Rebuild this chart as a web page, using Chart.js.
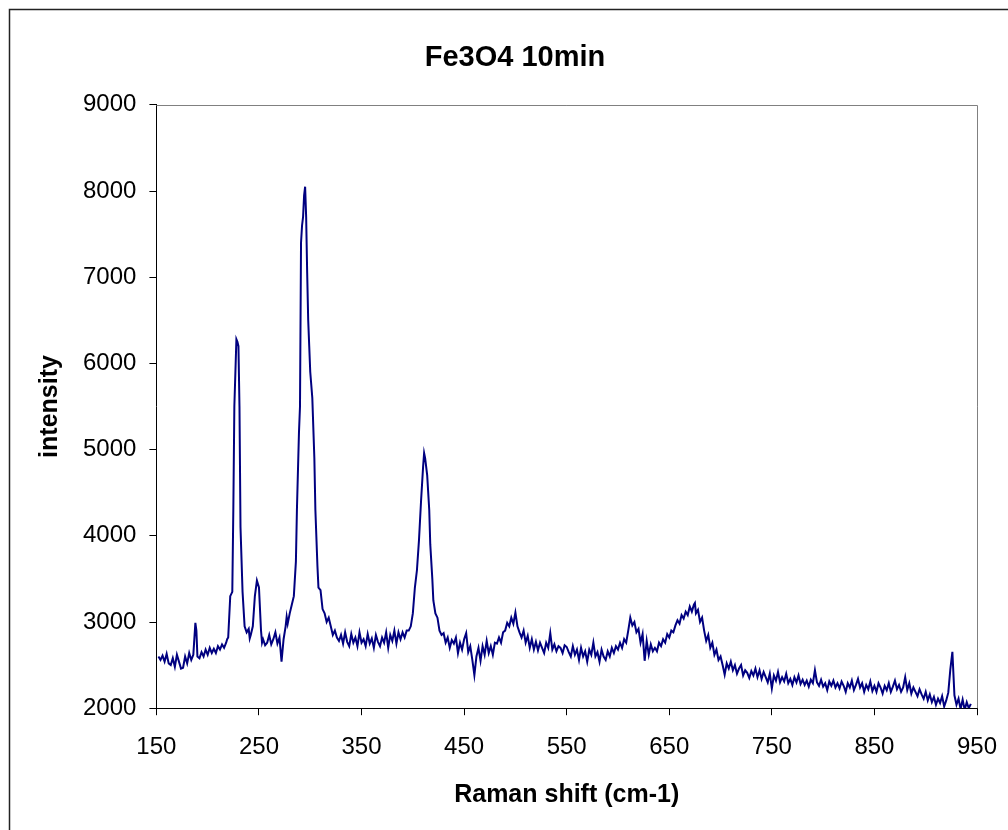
<!DOCTYPE html>
<html>
<head>
<meta charset="utf-8">
<title>Fe3O4 10min</title>
<script src="https://cdn.jsdelivr.net/npm/chart.js@4.4.0/dist/chart.umd.min.js"></script>
<style>
    html, body { margin: 0; padding: 0; background: #fff; }
    #wrap { width: 1008px; height: 830px; }
</style>
</head>
<body>
<div id="wrap"><canvas id="raman" width="1008" height="830"></canvas></div>
<script>
// 拉曼位移 (cm-1)
const ramanShift = [
    152,154,156,158,160,162,164,166,168,170,
    172,174,176,178,180,182,184,186,188,189,
    190,192,194,196,198,200,202,204,206,208,
    210,212,214,216,218,219,220,222,224,225,
    226,228,229,230,231,232,234,236,238,240,
    241,242,244,246,248,250,252,253,254,256,
    258,260,262,264,266,268,270,272,274,276,
    277,278,280,282,284,286,287,289,290,291,
    292,293,294,295,296,297,298,299,300,302,
    304,305,307,308,310,312,314,316,318,320,
    322,324,326,328,330,332,334,336,338,340,
    342,344,346,348,350,352,354,356,358,360,
    362,364,366,368,370,372,374,376,378,380,
    382,384,386,388,390,392,394,396,398,400,
    402,404,406,408,410,411,412,414,416,417,
    419,420,422,424,426,428,430,432,434,436,
    438,440,442,444,446,448,450,452,454,456,
    458,460,462,464,466,468,470,472,474,476,
    478,480,482,484,486,488,490,492,494,496,
    498,500,502,504,506,508,510,512,514,516,
    518,520,522,524,526,528,530,532,534,536,
    538,540,542,544,546,548,550,552,554,556,
    558,560,562,564,566,568,570,572,574,576,
    578,580,582,584,586,588,590,592,594,596,
    598,600,602,604,606,608,610,612,614,616,
    618,620,622,624,626,628,630,632,634,636,
    638,640,642,644,646,648,650,652,654,656,
    658,660,662,664,666,668,670,672,674,675,
    676,678,680,682,684,686,688,690,692,694,
    696,698,700,702,704,706,708,710,712,714,
    716,718,720,722,724,726,728,730,732,734,
    736,738,740,742,744,746,748,750,752,754,
    756,758,760,762,764,766,768,770,772,774,
    776,778,780,782,784,786,788,790,792,794,
    796,798,800,802,804,806,808,810,812,814,
    816,818,820,822,824,826,828,830,832,834,
    836,838,840,842,844,846,848,850,852,854,
    856,858,860,862,864,866,868,870,872,874,
    876,878,880,882,884,886,888,890,892,894,
    896,898,900,902,904,906,908,910,912,914,
    916,918,920,922,924,926,928,930,932,934,
    936,938,940,942,944
];

// 強度
const intensity = [
    2600,2560,2610,2540,2630,2520,2500,2580,2480,2620,
    2540,2460,2470,2600,2520,2640,2560,2620,2990,2900,
    2600,2580,2650,2600,2680,2620,2700,2640,2690,2640,
    2720,2680,2740,2700,2760,2800,2820,3300,3350,4300,
    5500,6280,6250,6200,5500,4100,3350,2950,2880,2920,
    2810,2850,2950,3300,3480,3400,2900,2760,2800,2730,
    2760,2850,2740,2800,2880,2750,2820,2540,2800,2950,
    3060,2980,3100,3200,3300,3700,4300,5200,5500,7400,
    7600,7700,7950,8050,7700,7050,6500,6200,5900,5600,
    4900,4300,3650,3400,3370,3150,3100,3000,3050,2950,
    2850,2900,2820,2780,2850,2750,2880,2770,2720,2860,
    2760,2820,2720,2880,2760,2800,2720,2860,2750,2810,
    2700,2850,2770,2720,2820,2760,2880,2700,2850,2780,
    2900,2750,2880,2800,2880,2820,2900,2900,2950,3100,
    3400,3600,3950,4400,4800,4960,4900,4700,4300,3900,
    3500,3250,3100,3050,2900,2850,2870,2760,2820,2700,
    2790,2750,2820,2640,2760,2680,2800,2870,2650,2720,
    2560,2383,2600,2700,2550,2720,2620,2780,2640,2720,
    2620,2760,2750,2820,2760,2880,2900,2990,2950,3050,
    2980,3110,2950,2880,2820,2900,2760,2840,2700,2800,
    2680,2770,2670,2760,2700,2640,2760,2700,2870,2680,
    2740,2660,2720,2700,2640,2730,2710,2650,2600,2720,
    2620,2680,2560,2700,2600,2660,2540,2680,2620,2760,
    2600,2650,2540,2680,2600,2560,2660,2600,2700,2640,
    2720,2680,2760,2700,2800,2760,2900,3050,2960,3000,
    2880,2920,2760,2860,2550,2780,2620,2740,2660,2700,
    2660,2760,2720,2800,2760,2860,2820,2900,2880,2960,
    3020,2980,3080,3040,3120,3080,3180,3120,3200,3220,
    3100,3140,3000,3050,2900,2780,2850,2700,2760,2620,
    2680,2560,2600,2500,2390,2520,2460,2540,2440,2500,
    2400,2460,2500,2380,2440,2410,2350,2430,2380,2460,
    2360,2440,2340,2420,2360,2300,2400,2230,2380,2320,
    2420,2300,2360,2310,2400,2290,2340,2270,2360,2300,
    2380,2280,2330,2270,2320,2250,2330,2290,2440,2300,
    2260,2330,2250,2290,2210,2310,2260,2320,2240,2290,
    2230,2310,2260,2190,2290,2240,2320,2210,2270,2340,
    2240,2290,2190,2270,2220,2310,2200,2260,2190,2290,
    2240,2170,2260,2210,2290,2190,2250,2320,2220,2270,
    2190,2240,2360,2210,2290,2170,2240,2190,2140,2220,
    2160,2110,2190,2090,2160,2070,2130,2040,2110,2060,
    2140,2020,2090,2180,2450,2654,2150,2040,2110,1990,
    2100,1980,2070,2000,2050
];

// 座標軸範圍
const xRange = [150, 950];
const yRange = [2000, 9000];
const xStep = 100;
const yStep = 1000;

const points = ramanShift.map((x, i) => ({ x: x, y: intensity[i] }));

// 外框和繪圖區上方/右方的灰線
const framePlugin = {
    id: 'frame',
    beforeDraw(chart) {
        const ctx = chart.ctx;
        ctx.save();
        ctx.fillStyle = '#fff';
        ctx.fillRect(0, 0, chart.width, chart.height);
        ctx.strokeStyle = '#222';
        ctx.lineWidth = 1.5;
        ctx.strokeRect(9.5, 9.5, chart.width + 20, chart.height + 20);
        ctx.restore();
    },
    afterDatasetsDraw(chart) {
        const { ctx, chartArea } = chart;
        ctx.save();
        ctx.strokeStyle = '#808080';
        ctx.lineWidth = 1;
        ctx.beginPath();
        ctx.moveTo(chartArea.left, Math.round(chartArea.top) + 0.5);
        ctx.lineTo(Math.round(chartArea.right) + 0.5, Math.round(chartArea.top) + 0.5);
        ctx.lineTo(Math.round(chartArea.right) + 0.5, chartArea.bottom);
        ctx.stroke();
        ctx.restore();
    }
};

const fontFamily = '"Liberation Sans", Arial, sans-serif';
const plainNumber = value => String(value);

new Chart(document.getElementById('raman'), {
    type: 'line',
    data: {
        datasets: [{
            data: points,
            borderColor: '#000080',
            borderWidth: 2,
            pointRadius: 0,
            tension: 0,
            fill: false
        }]
    },
    options: {
        responsive: false,
        animation: false,
        devicePixelRatio: 1,
        layout: { padding: { top: 0, left: 22, right: 0, bottom: 4 } },
        plugins: {
            legend: { display: false },
            tooltip: { enabled: false },
            title: {
                display: true,
                text: 'Fe3O4 10min',
                color: '#000',
                font: { family: fontFamily, size: 29, weight: 'bold' },
                padding: { top: 41, bottom: 29 }
            }
        },
        scales: {
            x: {
                type: 'linear',
                min: xRange[0],
                max: xRange[1],
                afterFit: scale => { scale.paddingRight = 31; },
                border: { display: true, color: '#000', width: 1 },
                grid: { drawOnChartArea: false, drawTicks: true, tickLength: 7, color: '#000' },
                ticks: {
                    stepSize: xStep,
                    color: '#000',
                    padding: 18,
                    maxRotation: 0,
                    callback: plainNumber,
                    font: { family: fontFamily, size: 24 }
                },
                title: {
                    display: true,
                    text: 'Raman shift (cm-1)',
                    color: '#000',
                    font: { family: fontFamily, size: 25, weight: 'bold' },
                    padding: { top: 0, bottom: 16 }
                }
            },
            y: {
                min: yRange[0],
                max: yRange[1],
                border: { display: true, color: '#000', width: 1 },
                grid: { drawOnChartArea: false, drawTicks: true, tickLength: 7, color: '#000' },
                ticks: {
                    stepSize: yStep,
                    color: '#000',
                    padding: 13,
                    callback: plainNumber,
                    font: { family: fontFamily, size: 24 }
                },
                title: {
                    display: true,
                    text: 'intensity',
                    color: '#000',
                    font: { family: fontFamily, size: 25, weight: 'bold' },
                    padding: { top: 13, bottom: 5 }
                }
            }
        }
    },
    plugins: [framePlugin]
});
</script>
</body>
</html>
